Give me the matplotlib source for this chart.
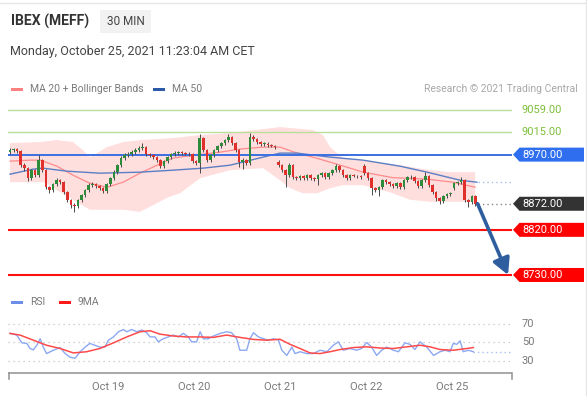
import matplotlib
matplotlib.use('Agg')
import matplotlib.pyplot as plt
from matplotlib.patches import Polygon, Rectangle
from matplotlib.transforms import blended_transform_factory

plt.rcParams['font.family'] = ['Roboto', 'DejaVu Sans']

# ---------------- data ----------------
title = 'IBEX (MEFF)'
timeframe = '30 MIN'
timestamp = 'Monday, October 25, 2021 11:23:04 AM CET'
credit = 'Research \u00a9 2021 Trading Central'

opens = [8975, 8979, 8981, 8977, 8949, 8943, 8923, 8939, 8929, 8959,
         8939, 8905, 8899, 8911, 8919, 8915, 8895, 8879, 8870, 8868,
         8879, 8889, 8899, 8909, 8911, 8907, 8903, 8897, 8911, 8923,
         8935, 8949, 8963, 8969, 8971, 8975, 8979, 8983, 8985, 8971,
         8969, 8965, 8959, 8947, 8957, 8965, 8971, 8973, 8975, 8973,
         8972, 8971, 8957, 8953, 9003, 8979, 8959, 8969, 8979, 8987,
         8993, 8999, 9005, 8993, 8979, 8955, 8959, 8953, 9005, 9001,
         8995, 8991, 8992, 8989, 8988, 8955, 8949, 8939, 8929, 8949,
         8925, 8923, 8927, 8923, 8929, 8923, 8921, 8929, 8933, 8925,
         8933, 8939, 8947, 8939, 8929, 8923, 8929, 8928, 8927, 8947,
         8933, 8923, 8903, 8899, 8905, 8919, 8915, 8911, 8907, 8913,
         8905, 8919, 8925, 8926, 8917, 8907, 8919, 8927, 8909, 8895,
         8883, 8877, 8887, 8891, 8903, 8913, 8915, 8919, 8879, 8875,
         8887]
closes = [8979, 8981, 8977, 8949, 8943, 8923, 8939, 8929, 8959, 8939,
          8905, 8899, 8911, 8919, 8915, 8895, 8879, 8870, 8868, 8879,
          8889, 8899, 8909, 8911, 8907, 8903, 8897, 8911, 8923, 8935,
          8949, 8963, 8969, 8971, 8975, 8979, 8983, 8985, 8971, 8969,
          8965, 8959, 8947, 8957, 8965, 8971, 8973, 8975, 8973, 8972,
          8971, 8957, 8953, 9003, 8979, 8959, 8969, 8979, 8987, 8993,
          8999, 9005, 8993, 8979, 8955, 8959, 8953, 9005, 9001, 8995,
          8991, 8992, 8989, 8988, 8985, 8949, 8939, 8929, 8949, 8925,
          8923, 8927, 8923, 8929, 8923, 8921, 8929, 8933, 8925, 8933,
          8939, 8947, 8939, 8929, 8923, 8929, 8928, 8927, 8925, 8933,
          8923, 8903, 8899, 8905, 8919, 8915, 8911, 8907, 8913, 8905,
          8919, 8925, 8926, 8917, 8907, 8919, 8927, 8909, 8895, 8883,
          8877, 8887, 8891, 8893, 8913, 8915, 8919, 8879, 8875, 8887,
          8872]
highs = [8983, 8984, 8983, 8979, 8953, 8946, 8942, 8941, 8969, 8962,
         8941, 8908, 8914, 8923, 8922, 8917, 8897, 8882, 8873, 8882,
         8892, 8902, 8913, 8915, 8914, 8910, 8905, 8914, 8926, 8939,
         8952, 8968, 8973, 8976, 8979, 8983, 8987, 8993, 8987, 8974,
         8972, 8967, 8961, 8960, 8968, 8974, 8977, 8978, 8977, 8976,
         8975, 8973, 8960, 9011, 9005, 8981, 8972, 8982, 8990, 8996,
         9002, 9012, 9007, 8995, 8982, 8963, 8962, 9013, 9010, 9003,
         8997, 8995, 8995, 8992, 8990, 8959, 8951, 8941, 8953, 8951,
         8928, 8930, 8929, 8932, 8931, 8925, 8932, 8936, 8935, 8936,
         8942, 8951, 8949, 8941, 8931, 8932, 8931, 8930, 8929, 8951,
         8935, 8925, 8906, 8908, 8922, 8921, 8917, 8913, 8916, 8915,
         8922, 8928, 8929, 8928, 8919, 8922, 8935, 8929, 8911, 8897,
         8886, 8890, 8894, 8896, 8916, 8918, 8925, 8921, 8882, 8890,
         8889]
lows = [8972, 8976, 8974, 8945, 8938, 8917, 8920, 8925, 8926, 8935,
        8901, 8894, 8896, 8908, 8912, 8891, 8875, 8864, 8856, 8864,
        8876, 8886, 8896, 8906, 8904, 8900, 8894, 8894, 8908, 8920,
        8932, 8946, 8959, 8965, 8967, 8971, 8975, 8979, 8967, 8965,
        8961, 8955, 8943, 8944, 8954, 8962, 8968, 8970, 8970, 8969,
        8968, 8953, 8949, 8933, 8975, 8955, 8955, 8966, 8976, 8984,
        8990, 8996, 8989, 8975, 8945, 8941, 8949, 8950, 8997, 8991,
        8988, 8987, 8986, 8985, 8981, 8945, 8935, 8905, 8926, 8921,
        8919, 8920, 8920, 8920, 8919, 8917, 8909, 8926, 8922, 8922,
        8930, 8936, 8935, 8925, 8920, 8920, 8925, 8924, 8922, 8930,
        8919, 8889, 8895, 8887, 8902, 8912, 8908, 8904, 8904, 8902,
        8902, 8916, 8921, 8914, 8904, 8904, 8916, 8905, 8891, 8877,
        8872, 8874, 8884, 8888, 8900, 8910, 8912, 8875, 8865, 8872,
        8867]

ma20_idx = [0, 5.6, 8.4, 13.1, 17.6, 22.3, 27.1, 31.6, 36.3, 41.1, 45.5, 49.4, 53.9,
            58.7, 64.2, 70.7, 75.4, 80.2, 84.6, 89.4, 94.1, 98.6, 107, 116.5, 123.7, 129.9]
ma20_val = [8957, 8959, 8959, 8947, 8929, 8913, 8905, 8915, 8933, 8949, 8963, 8967, 8971,
            8975, 8981, 8985, 8985, 8973, 8965, 8955, 8945, 8935, 8924, 8921, 8915, 8905]

ma50_idx = [0, 6.4, 9.2, 15.9, 25.1, 36.3, 45.5, 53.9, 61.5, 70.7, 75.4, 80.2, 89.4,
            98.6, 108.9, 116.5, 125.7, 130.4]
ma50_val = [8931, 8941, 8943, 8937, 8933, 8935, 8939, 8943, 8949, 8965, 8973, 8973, 8965,
            8959, 8947, 8935, 8919, 8915]

bb_up_idx = [0, 8.4, 13.1, 17.6, 20.4, 22.3, 24.3, 27.1, 31.6, 36.3, 45.5, 53.1, 61.5,
             75.4, 84.6, 87.4, 89.4, 91.3, 93, 98.6, 108.9, 117.3, 122.9, 129.9]
bb_up_val = [8993, 8995, 8999, 8995, 8979, 8965, 8973, 8985, 8995, 8999, 9003, 9009, 9013,
             9025, 9019, 9009, 8985, 8973, 8963, 8959, 8949, 8939, 8935, 8935]
bb_lo_idx = [0, 6.4, 9.8, 13.1, 17.6, 22.3, 27.1, 31.6, 36.3, 39.1, 43.9, 47.5, 53.1,
             61.5, 70.7, 75.4, 78.2, 81.8, 85.8, 89.4, 93, 98.6, 106.1, 111.7, 117.3, 129.9]
bb_lo_val = [8915, 8915, 8915, 8899, 8880, 8860, 8860, 8860, 8856, 8866, 8884, 8893, 8923,
             8939, 8943, 8919, 8903, 8893, 8893, 8903, 8909, 8909, 8895, 8880, 8876, 8876]

resistances = [9059, 9015]
pivot = 8970
last_price = 8872
supports = [8820, 8730]
target = 8730

rsi_idx = [0, 1.9, 3.3, 4.7, 5.6, 6.5, 7.5, 8.4, 9.3, 10.2, 12.1, 14, 15.4, 16.8, 18.2,
           19.6, 21, 22.3, 23.7, 25.1, 26.5, 27.5, 28.9, 30.3, 31.7, 32.6, 34, 35.4, 36.8,
           38.2, 39.1, 40.5, 41.4, 42.8, 44.2, 45.6, 47, 48.4, 49.8, 50.7, 52.1, 53.1, 54,
           55.4, 56.8, 58.7, 60.5, 61.9, 63.3, 64.2, 66.1, 67, 68, 69.4, 70.8, 72.2, 73.6,
           75, 75.9, 77.3, 78.7, 79.6, 81, 82.9, 84.7, 86.6, 88.5, 90.3, 91.7, 93.1, 95,
           96.8, 98.2, 99.6, 101, 102.4, 103.8, 105.2, 107.1, 108.5, 110.3, 111.7, 113.1,
           114.5, 116.4, 118.3, 120.1, 121.5, 122.9, 123.8, 124.8, 125.7, 126.6, 128, 129.4]
rsi_val = [59.8, 58, 49.6, 49, 43.5, 42, 47, 54, 45, 38, 41.6, 44.5, 38, 34, 33,
           40, 45, 49, 47, 45, 45, 52.5, 56, 61.6, 64, 61.6, 64, 61.6, 63.5,
           60.5, 56, 56, 50.7, 54, 56, 58, 56, 59.8, 56, 50.7, 50.7, 61.6, 54,
           54, 57, 59.8, 61.6, 60.5, 54, 41.6, 41.6, 54, 60.5, 56, 54, 52.5, 54,
           52.5, 41.6, 36, 45, 38, 40, 38, 38, 41.6, 40, 47, 50.7, 41.6, 43.5,
           41.6, 43.5, 50, 45, 36, 41.6, 45, 41.6, 40, 49.6, 48, 42.4,
           50.7, 45, 36, 40, 41.6, 40, 49, 48, 51.8, 40, 41.6, 40]
ma9_idx = [0, 2.8, 6.5, 10.2, 14, 17.7, 21.4, 25.1, 28.9, 32.6, 36.3, 39.1, 41.9, 45.6,
           49.3, 53.1, 56.8, 60.5, 64.2, 68, 71.7, 75.4, 78.2, 81, 83.8, 86.6, 89.4, 92.2,
           95.9, 99.6, 103.4, 107.1, 110.8, 114.5, 117.3, 120.1, 123.8, 127.6, 129.4]
ma9_val = [59.8, 58, 52.5, 47, 43.5, 38.7, 40, 43.5, 49.6, 56, 61.6, 62.7, 59, 57,
           56, 56, 55.5, 58, 55.5, 53.3, 52.5, 53.5, 48, 43.5, 38.7, 38, 40, 42.4,
           44.5, 45.3, 44, 43.5, 45.3, 47, 45.3, 42.4, 41.6, 43.5, 44.5]
rsi_levels = [70, 50, 30]

day_labels = ['Oct 19', 'Oct 20', 'Oct 21', 'Oct 22', 'Oct 25']
day_ticks = [27.4, 51.4, 75.4, 99.4, 123.4]

# ---------------- styles ----------------
W, H = 587, 396
GREEN_C = '#2e8b3a'
RED_C = '#e0302b'
GRAY_T = '#7a7a7a'

fig = plt.figure(figsize=(W / 100, H / 100), dpi=100)
fig.patch.set_facecolor('white')

XMIN, XMAX = -0.56, 140.2
ax = fig.add_axes([8 / W, (H - 285) / H, 504 / W, 190 / H])
ax.set_xlim(XMIN, XMAX)
ax.set_ylim(8710.0, 9088.9)
ax.axis('off')

rax = fig.add_axes([8 / W, (H - 373) / H, 504 / W, 58 / H])
rax.set_xlim(XMIN, XMAX)
rax.set_ylim(17.0, 79.7)
rax.axis('off')

ov = fig.add_axes([0, 0, 1, 1], zorder=10)
ov.set_xlim(0, W)
ov.set_ylim(H, 0)
ov.axis('off')
ov.patch.set_alpha(0)

def ypx(a, v):
    return H - a.transData.transform((0, v))[1]

def xpx(a, v):
    return a.transData.transform((v, 0))[0]

# Bollinger band fill
ax.fill(bb_up_idx + bb_lo_idx[::-1], bb_up_val + bb_lo_val[::-1],
        color='#ffdede', lw=0, zorder=1)
ax.plot(ma20_idx, ma20_val, color='#ff8c8c', lw=0.9, zorder=2)
ax.plot(ma50_idx, ma50_val, color='#5b7fc4', lw=1.0, zorder=2)

# level lines
for r in resistances:
    ax.axhline(r, color='#b9e09b', lw=1.0, zorder=2.5)
ax.axhline(pivot, color='#3b6fe2', lw=1.4, zorder=2.5)
for s in supports:
    ax.axhline(s, color='#ff1010', lw=1.5, zorder=2.5)

n = len(closes)
ax.hlines(last_price, n - 0.2, XMAX, color='#888888', lw=1.0,
          linestyles=(0, (1, 2.2)), zorder=2.5)
ax.hlines(ma50_val[-1], n - 0.2, XMAX, color='#a9bde8', lw=1.0,
          linestyles=(0, (1, 2.2)), zorder=2.5)

# candles
for i in range(n):
    o, h, l, c = opens[i], highs[i], lows[i], closes[i]
    col = GREEN_C if c >= o else RED_C
    ax.vlines(i, l, h, color='#4a4a4a', lw=0.7, zorder=3)
    body = max(abs(c - o), 1.2)
    ax.bar(i, body, bottom=min(o, c), width=0.72, color=col, lw=0, zorder=4)

# forecast arrow
ax.annotate('', xy=(n + 8.1, target), xytext=(n - 0.4, last_price),
            arrowprops=dict(arrowstyle='-|>,head_length=0.75,head_width=0.4',
                            color='#2f5e9e', lw=2.6, mutation_scale=13,
                            shrinkA=0, shrinkB=0), zorder=5)

# right-side labels
def tag(price, color):
    y = ypx(ax, price)
    ov.add_patch(Polygon([(513, y), (519.5, y - 7), (584, y - 7), (584, y + 7), (519.5, y + 7)],
                         closed=True, facecolor=color, edgecolor='none'))
    ov.text(522, y + 0.3, f'{price:.2f}', color='white', fontsize=8, va='center', ha='left')

for r in resistances:
    ov.text(522, ypx(ax, r) + 0.3, f'{r:.2f}', color='#7cbf3a', fontsize=8, va='center', ha='left')
tag(pivot, '#2f6fef')
tag(last_price, '#333333')
for s in supports:
    tag(s, '#ff0000')

# RSI panel
for lv in rsi_levels:
    rax.axhline(lv, color='#c4c4c4', lw=0.9, ls=(0, (1, 3)), zorder=1)
    ov.text(522, ypx(rax, lv), str(lv), color=GRAY_T, fontsize=8, va='center', ha='left')
rax.plot(rsi_idx, rsi_val, color='#8ba8f2', lw=1.0, zorder=2)
rax.plot(ma9_idx, ma9_val, color='#ff4a4a', lw=1.1, zorder=3)
rax.hlines(rsi_val[-1], rsi_idx[-1], XMAX, color='#a8bdf3', lw=1.0,
           linestyles=(0, (1, 2.2)), zorder=2)

# bottom axis of RSI panel
yb = ypx(rax, 17.0)
xl, xr = xpx(rax, XMIN), xpx(rax, XMAX)
ov.plot([xl, xr], [yb, yb], color='#9a9a9a', lw=1.2, solid_capstyle='butt')
ov.plot([xl + 0.5, xl + 0.5], [yb, yb + 5.5], color='#9a9a9a', lw=1.2)
ov.plot([xr - 0.5, xr - 0.5], [yb, yb + 5.5], color='#9a9a9a', lw=1.2)
for t, lab in zip(day_ticks, day_labels):
    ov.text(xpx(rax, t), yb + 13.5, lab, color=GRAY_T, fontsize=8, ha='center', va='center')

# header
ov.plot([0, W], [2.5, 2.5], color='#e6e6e6', lw=1)
ov.plot([585.5, 585.5], [0, H], color='#e6e6e6', lw=1)
ov.text(11, 21, title, fontsize=10, fontweight='bold', color='#333333', va='center', ha='left')
ov.add_patch(Rectangle((100, 10), 51, 23, facecolor='#f2f2f2', edgecolor='none'))
ov.text(125.5, 21.5, timeframe, fontsize=8.5, color='#444444', va='center', ha='center')
ov.text(10, 51, timestamp, fontsize=9, color='#444444', va='center', ha='left')

# legends
ov.add_patch(Rectangle((11, 87.5), 12, 3.5, facecolor='#ff8080', edgecolor='none'))
ov.text(30, 89, 'MA 20 + Bollinger Bands', fontsize=7.5, color=GRAY_T, va='center', ha='left')
ov.add_patch(Rectangle((153, 87.5), 12, 3.5, facecolor='#2d5aa8', edgecolor='none'))
ov.text(172, 89, 'MA 50', fontsize=7.5, color=GRAY_T, va='center', ha='left')
ov.text(578, 89, credit, fontsize=7.5, color='#a8a8a8', va='center', ha='right')

ov.add_patch(Rectangle((11, 300.5), 12, 3.5, facecolor='#6b8fe8', edgecolor='none'))
ov.text(30, 302, 'RSI', fontsize=7.5, color=GRAY_T, va='center', ha='left')
ov.add_patch(Rectangle((59, 300.5), 12, 3.5, facecolor='#ff1a1a', edgecolor='none'))
ov.text(78, 302, '9MA', fontsize=7.5, color=GRAY_T, va='center', ha='left')

fig.savefig('out.png', dpi=100)
